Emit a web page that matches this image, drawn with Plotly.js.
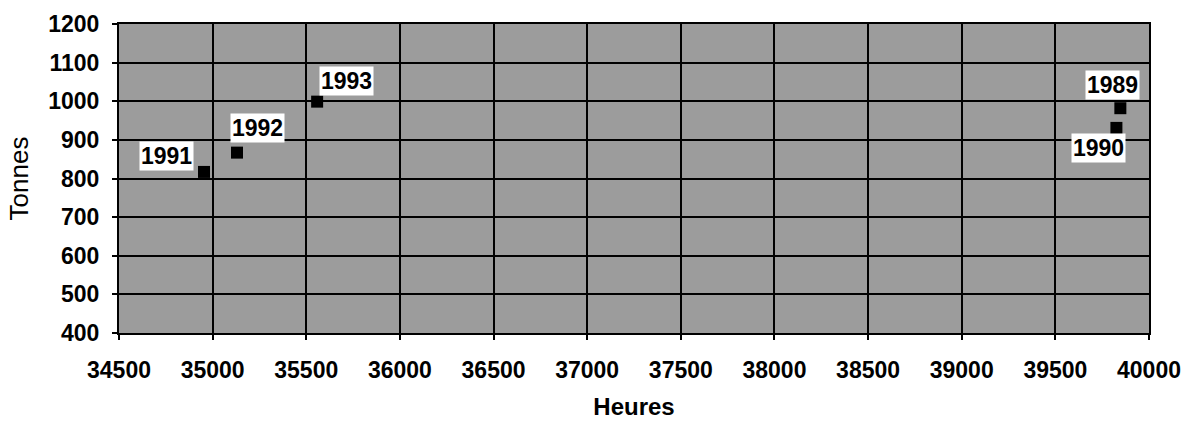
<!DOCTYPE html>
<html>
<head>
<meta charset="utf-8">
<script src="https://cdn.plot.ly/plotly-3.0.1.min.js"></script>
<style>html,body{margin:0;padding:0;background:#fff;}#chart{width:1189px;height:425px;}</style>
</head>
<body>
<div id="chart"></div>
<script>
// Data
const years  = ["1989", "1990", "1991", "1992", "1993"];
const heures = [39847, 39826, 34954, 35130, 35558];
const tonnes = [982, 931, 817, 867, 999];

// label offsets (pixels) per year, relative to its point
const labelShiftX = {"1989": -8, "1990": -18, "1991": -38, "1992": 21, "1993": 29};
const labelShiftY = {"1989": 23, "1990": -20, "1991": 16, "1992": 25, "1993": 21};

const FONT = "Liberation Sans, Arial, sans-serif";

const trace = {
  x: heures, y: tonnes, text: years,
  type: "scatter", mode: "markers",
  marker: {symbol: "square", size: 12, color: "#000"},
  hoverinfo: "x+y+text"
};

const annotations = years.map((yr, i) => ({
  x: heures[i], y: tonnes[i], xref: "x", yref: "y",
  text: yr, showarrow: false,
  xanchor: "center", yanchor: "middle",
  xshift: labelShiftX[yr], yshift: labelShiftY[yr],
  bgcolor: "#ffffff", borderpad: 1,
  font: {family: FONT, size: 23, color: "#000", weight: "bold"}
}));

const layout = {
  width: 1189, height: 425,
  margin: {l: 119, r: 40, t: 24, b: 92, pad: 0},
  paper_bgcolor: "#ffffff",
  plot_bgcolor: "#9c9c9c",
  showlegend: false,
  font: {family: FONT, size: 23, color: "#000"},
  xaxis: {
    range: [34500, 40000], dtick: 500, tick0: 34500, tickformat: "d",
    showgrid: true, gridcolor: "#000", gridwidth: 2,
    zeroline: false, showline: true, linecolor: "#000", linewidth: 2, mirror: true,
    ticks: "outside", ticklen: 5, tickcolor: "#000", tickwidth: 2,
    ticklabelstandoff: 10,
    tickfont: {family: FONT, size: 23, color: "#000", weight: "bold"},
    title: {text: "Heures", font: {family: FONT, size: 24, color: "#000", weight: "bold"}, standoff: 17}
  },
  yaxis: {
    range: [400, 1200], dtick: 100, tick0: 400, tickformat: "d",
    showgrid: true, gridcolor: "#000", gridwidth: 2,
    zeroline: false, showline: true, linecolor: "#000", linewidth: 2, mirror: true,
    ticks: "outside", ticklen: 5, tickcolor: "#000", tickwidth: 2,
    ticklabelstandoff: 8,
    tickfont: {family: FONT, size: 23, color: "#000", weight: "bold"},
    title: {text: "Tonnes", font: {family: FONT, size: 26, color: "#000"}, standoff: 12}
  },
  annotations: annotations
};

Plotly.newPlot("chart", [trace], layout, {displayModeBar: false, staticPlot: true});
</script>
</body>
</html>
